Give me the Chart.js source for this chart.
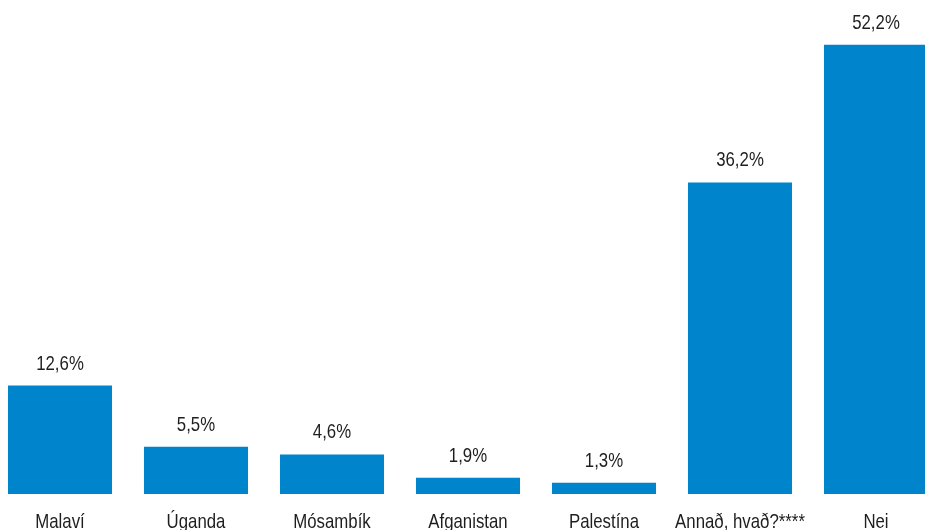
<!DOCTYPE html>
<html>
<head>
<meta charset="utf-8">
<script src="https://cdn.jsdelivr.net/npm/chart.js@4.4.1/dist/chart.umd.min.js"></script>
<style>
  html, body { margin: 0; padding: 0; background: #fff; overflow: hidden; width: 925px; height: 530px; }
  #wrap { position: absolute; left: -8px; top: 0; width: 952px; height: 530px; }
</style>
</head>
<body>
<div id="wrap"><canvas id="chart"></canvas></div>
<script>
const categories = ["Malaví", "Úganda", "Mósambík", "Afganistan", "Palestína", "Annað, hvað?****", "Nei"];
const shares = [12.6, 5.5, 4.6, 1.9, 1.3, 36.2, 52.2];

// no Arial Narrow here, so squeeze Liberation Sans (Arial metrics) horizontally
const fontFamily = "'Liberation Sans', Arial, sans-serif";
const squeeze = 0.8;
const barColor = "#0085cc";
const textColor = "#1e1e1e";

const fmt = v => v.toFixed(1).replace(".", ",") + "%";

function narrowText(ctx, text, x, y) {
  ctx.save();
  ctx.translate(x, y);
  ctx.scale(squeeze, 1);
  ctx.fillText(text, 0, 0);
  ctx.restore();
}

const textLabels = {
  id: "textLabels",
  afterDatasetsDraw(chart) {
    const { ctx, chartArea } = chart;
    const meta = chart.getDatasetMeta(0);
    const xScale = chart.scales.x;
    ctx.save();
    ctx.font = `21px ${fontFamily}`;
    ctx.fillStyle = textColor;
    ctx.textAlign = "center";
    ctx.textBaseline = "alphabetic";
    meta.data.forEach((bar, i) => {
      narrowText(ctx, fmt(shares[i]), bar.x, bar.y - 16);
    });
    categories.forEach((label, i) => {
      narrowText(ctx, label, xScale.getPixelForValue(i), chartArea.bottom + 34);
    });
    ctx.restore();
  }
};

new Chart(document.getElementById("chart"), {
  type: "bar",
  data: {
    labels: categories,
    datasets: [{ data: shares, backgroundColor: barColor, barPercentage: 0.765, categoryPercentage: 1 }]
  },
  options: {
    responsive: true,
    maintainAspectRatio: false,
    animation: false,
    layout: { padding: { top: 0, bottom: 36, left: 0, right: 0 } },
    plugins: { legend: { display: false }, tooltip: { enabled: false } },
    scales: {
      x: { display: false },
      y: { display: false, min: 0, max: 57.4 }
    }
  },
  plugins: [textLabels]
});
</script>
</body>
</html>
